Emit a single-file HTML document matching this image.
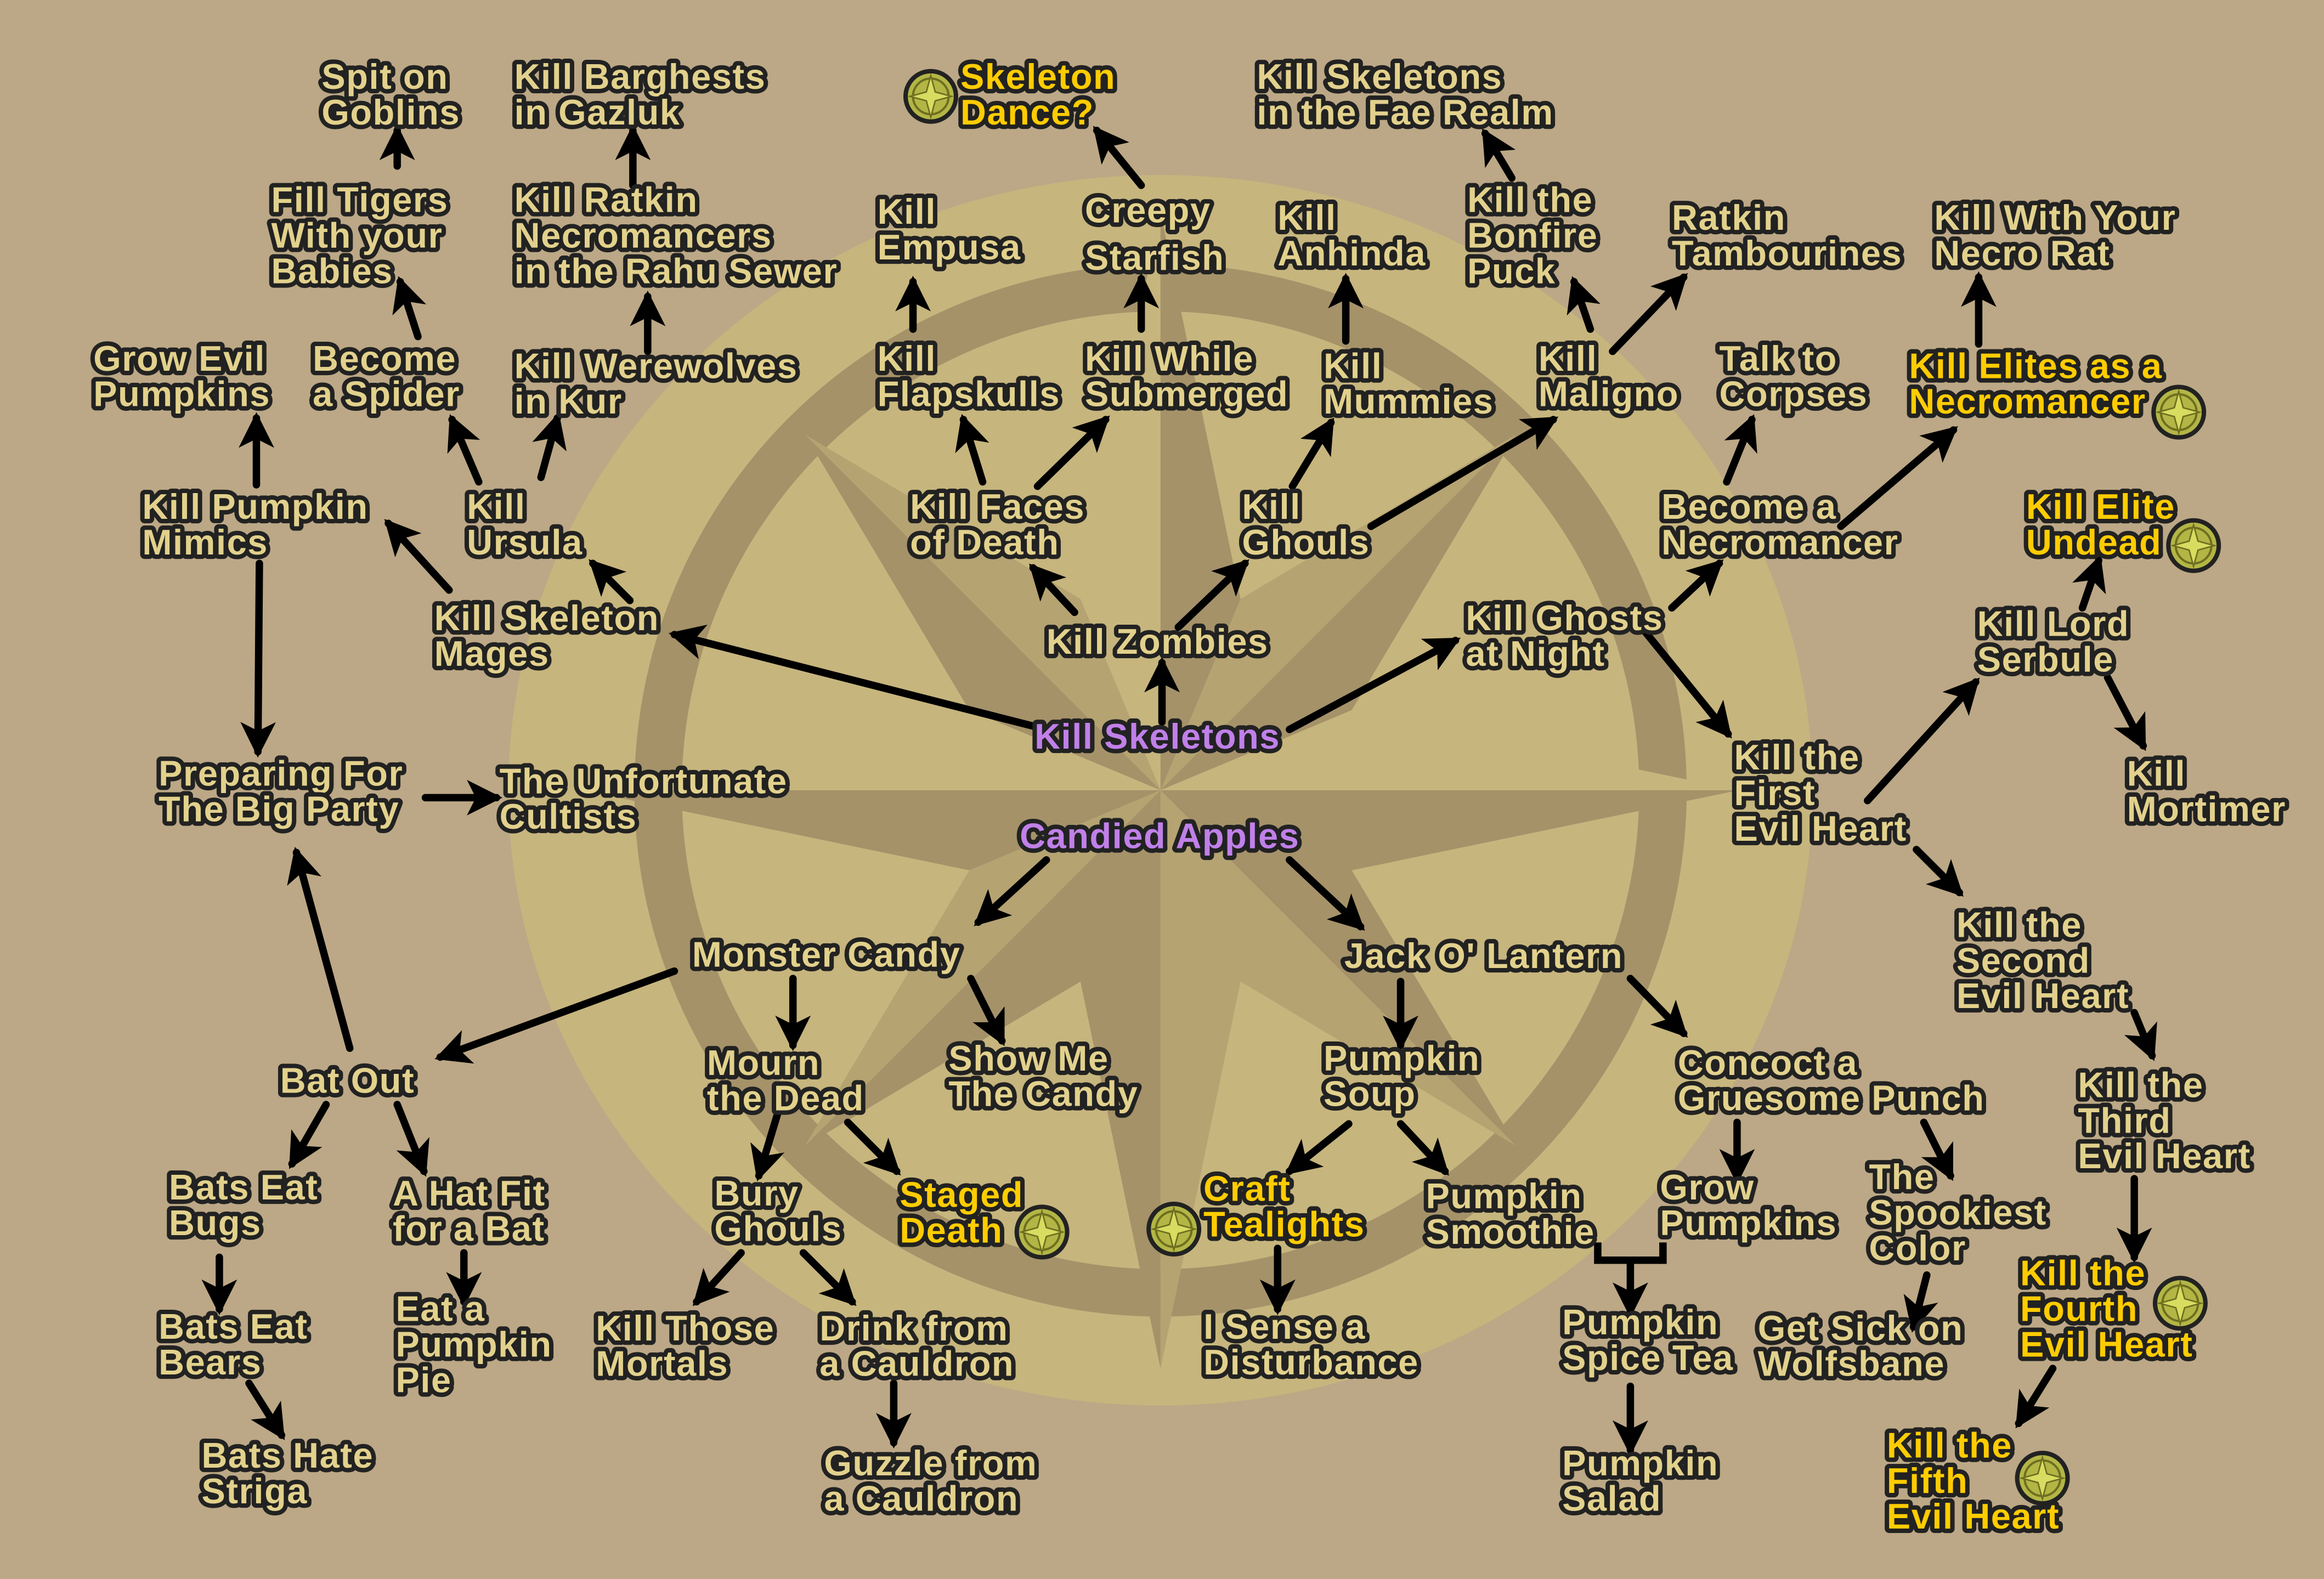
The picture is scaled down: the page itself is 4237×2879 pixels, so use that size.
<!DOCTYPE html>
<html><head><meta charset="utf-8"><style>
html,body{margin:0;padding:0;background:#BCA886;}
svg{display:block}
text{font-family:"Liberation Sans",sans-serif;font-weight:bold;font-size:24px;paint-order:stroke;stroke:#222;stroke-width:6;stroke-linejoin:round;fill:#E2D18C;letter-spacing:0.6px}
.y{fill:#FFCC00}
.p{fill:#C080E8}
.a{stroke:#000;stroke-width:5;fill:none;stroke-linecap:round}
.d{fill:#A59269}
.m{fill:#B5A372}
.l{fill:#C6B57D}
</style></head><body>
<svg width="4237" height="2879" viewBox="0 0 1568 1065" preserveAspectRatio="none" xmlns="http://www.w3.org/2000/svg">
<defs>
<marker id="h" markerUnits="userSpaceOnUse" markerWidth="30" markerHeight="30" refX="20" refY="12" orient="auto">
<path d="M0,0 L24,12 L0,24 L6,12 Z" fill="#000"/>
</marker>
<g id="coin"><circle r="17" fill="#B3B645" stroke="#222" stroke-width="3"/><circle r="12" fill="none" stroke="#6E6E20" stroke-width="1.5"/><path d="M0,-14 L3,-3 L14,0 L3,3 L0,14 L-3,3 L-14,0 L-3,-3Z" fill="#D8DC60" stroke="#6E6E20" stroke-width="1"/></g>
</defs>
<rect width="1568" height="1065" fill="#BCA886"/>
<ellipse cx="783" cy="533" rx="440" ry="415" fill="#C6B57D"/>
<circle cx="783" cy="533" r="339" fill="none" stroke="#A59269" stroke-width="32"/>
<!-- diagonal points -->
<path class="m" d="M783,533 L837,404 L1023,293Z"/>
<path class="d" d="M783,533 L912,479 L1023,293Z"/>
<path class="d" d="M783,533 L912,587 L1023,773Z"/>
<path class="m" d="M783,533 L837,662 L1023,773Z"/>
<path class="d" d="M783,533 L729,662 L543,773Z"/>
<path class="m" d="M783,533 L654,587 L543,773Z"/>
<path class="d" d="M783,533 L654,479 L543,293Z"/>
<path class="m" d="M783,533 L729,404 L543,293Z"/>
<!-- long points -->
<path class="l" d="M783,533 L912,479 L1173,533Z"/>
<path class="d" d="M783,533 L912,587 L1173,533Z"/>
<path class="l" d="M783,533 L654,479 L393,533Z"/>
<path class="d" d="M783,533 L654,587 L393,533Z"/>
<path class="l" d="M783,533 L729,404 L783,143Z"/>
<path class="d" d="M783,533 L837,404 L783,143Z"/>
<path class="d" d="M783,533 L729,662 L783,923Z"/>
<path class="m" d="M783,533 L837,662 L783,923Z"/>

<g class="a" marker-end="url(#h)">
<path d="M268,112 L268,88"/>
<path d="M427,125 L427,88"/>
<path d="M770,125 L740,88"/>
<path d="M1020,120 L1002,90"/>
<path d="M282,227 L270,190"/>
<path d="M437,237 L437,200"/>
<path d="M616,222 L616,190"/>
<path d="M770,222 L770,188"/>
<path d="M908,230 L908,188"/>
<path d="M1073,222 L1062,190"/>
<path d="M1088,237 L1136,187"/>
<path d="M1335,232 L1335,187"/>
<path d="M173,327 L173,282"/>
<path d="M323,325 L305,283"/>
<path d="M365,322 L376,282"/>
<path d="M663,325 L650,283"/>
<path d="M700,328 L746,283"/>
<path d="M872,328 L898,285"/>
<path d="M925,355 L1048,283"/>
<path d="M1165,325 L1182,283"/>
<path d="M1242,355 L1318,290"/>
<path d="M1260,540 L1333,460"/>
<path d="M1405,410 L1416,378"/>
<path d="M1422,457 L1446,503"/>
<path d="M303,398 L262,353"/>
<path d="M425,405 L400,380"/>
<path d="M175,380 L174,507"/>
<path d="M287,538 L335,538"/>
<path d="M236,707 L200,575"/>
<path d="M725,413 L697,383"/>
<path d="M795,423 L840,380"/>
<path d="M784,487 L784,447"/>
<path d="M698,490 L455,428"/>
<path d="M870,492 L982,432"/>
<path d="M1105,420 L1166,495"/>
<path d="M1128,410 L1160,380"/>
<path d="M1293,573 L1322,602"/>
<path d="M1440,683 L1452,712"/>
<path d="M1440,795 L1440,848"/>
<path d="M1385,923 L1362,960"/>
<path d="M706,580 L660,622"/>
<path d="M870,580 L918,625"/>
<path d="M455,655 L297,713"/>
<path d="M535,660 L535,705"/>
<path d="M655,660 L676,702"/>
<path d="M945,662 L945,705"/>
<path d="M1100,660 L1136,697"/>
<path d="M220,745 L197,785"/>
<path d="M268,745 L286,790"/>
<path d="M525,750 L512,793"/>
<path d="M572,757 L605,790"/>
<path d="M910,758 L870,790"/>
<path d="M945,758 L975,790"/>
<path d="M1172,757 L1172,795"/>
<path d="M1298,757 L1316,793"/>
<path d="M148,848 L148,883"/>
<path d="M313,845 L313,878"/>
<path d="M500,845 L470,878"/>
<path d="M542,845 L575,878"/>
<path d="M862,842 L862,883"/>
<path d="M1300,860 L1291,895"/>
<path d="M168,933 L190,968"/>
<path d="M603,933 L603,973"/>
<path d="M1100,935 L1100,978"/>
<path d="M1100,850 L1100,885"/>
</g>
<path d="M1078,838 V850 H1122 V838" stroke="#000" stroke-width="5" fill="none"/>

<use href="#coin" x="628" y="65"/>
<use href="#coin" x="1470" y="278"/>
<use href="#coin" x="1480" y="368"/>
<use href="#coin" x="703" y="831"/>
<use href="#coin" x="792" y="829"/>
<use href="#coin" x="1471" y="879"/>
<use href="#coin" x="1378" y="997"/>

<text x="217" y="60">Spit on<tspan x="217" y="84">Goblins</tspan></text>
<text x="347" y="60">Kill Barghests<tspan x="347" y="84">in Gazluk</tspan></text>
<text class="y" x="648" y="60">Skeleton<tspan x="648" y="84">Dance?</tspan></text>
<text x="848" y="60">Kill Skeletons<tspan x="848" y="84">in the Fae Realm</tspan></text>
<text x="183" y="143">Fill Tigers<tspan x="183" y="167">With your</tspan><tspan x="183" y="191">Babies</tspan></text>
<text x="347" y="143">Kill Ratkin<tspan x="347" y="167">Necromancers</tspan><tspan x="347" y="191">in the Rahu Sewer</tspan></text>
<text x="592" y="151">Kill<tspan x="592" y="175">Empusa</tspan></text>
<text x="732" y="150">Creepy<tspan x="732" y="182">Starfish</tspan></text>
<text x="862" y="155">Kill<tspan x="862" y="179">Anhinda</tspan></text>
<text x="990" y="143">Kill the<tspan x="990" y="167">Bonfire</tspan><tspan x="990" y="191">Puck</tspan></text>
<text x="1128" y="155">Ratkin<tspan x="1128" y="179">Tambourines</tspan></text>
<text x="1305" y="155">Kill With Your<tspan x="1305" y="179">Necro Rat</tspan></text>
<text x="63" y="250">Grow Evil<tspan x="63" y="274">Pumpkins</tspan></text>
<text x="211" y="250">Become<tspan x="211" y="274">a Spider</tspan></text>
<text x="347" y="255">Kill Werewolves<tspan x="347" y="279">in Kur</tspan></text>
<text x="592" y="250">Kill<tspan x="592" y="274">Flapskulls</tspan></text>
<text x="732" y="250">Kill While<tspan x="732" y="274">Submerged</tspan></text>
<text x="893" y="255">Kill<tspan x="893" y="279">Mummies</tspan></text>
<text x="1038" y="250">Kill<tspan x="1038" y="274">Maligno</tspan></text>
<text x="1160" y="250">Talk to<tspan x="1160" y="274">Corpses</tspan></text>
<text class="y" x="1288" y="255">Kill Elites as a<tspan x="1288" y="279">Necromancer</tspan></text>
<text x="96" y="350">Kill Pumpkin<tspan x="96" y="374">Mimics</tspan></text>
<text x="315" y="350">Kill<tspan x="315" y="374">Ursula</tspan></text>
<text x="614" y="350">Kill Faces<tspan x="614" y="374">of Death</tspan></text>
<text x="838" y="350">Kill<tspan x="838" y="374">Ghouls</tspan></text>
<text x="1121" y="350">Become a<tspan x="1121" y="374">Necromancer</tspan></text>
<text class="y" x="1367" y="350">Kill Elite<tspan x="1367" y="374">Undead</tspan></text>
<text x="293" y="425">Kill Skeleton<tspan x="293" y="449">Mages</tspan></text>
<text x="706" y="441">Kill Zombies</text>
<text x="989" y="425">Kill Ghosts<tspan x="989" y="449">at Night</tspan></text>
<text x="1334" y="429">Kill Lord<tspan x="1334" y="453">Serbule</tspan></text>
<text class="p" x="698" y="505">Kill Skeletons</text>
<text x="107" y="530">Preparing For<tspan x="107" y="554">The Big  Party</tspan></text>
<text x="337" y="535">The Unfortunate<tspan x="337" y="559">Cultists</tspan></text>
<text x="1170" y="519">Kill the<tspan x="1170" y="543">First</tspan><tspan x="1170" y="567">Evil Heart</tspan></text>
<text x="1435" y="530">Kill<tspan x="1435" y="554">Mortimer</tspan></text>
<text class="p" x="688" y="572">Candied Apples</text>
<text x="467" y="652">Monster Candy</text>
<text x="907" y="653">Jack O' Lantern</text>
<text x="1320" y="632">Kill the<tspan x="1320" y="656">Second</tspan><tspan x="1320" y="680">Evil Heart</tspan></text>
<text x="189" y="737">Bat Out</text>
<text x="477" y="725">Mourn<tspan x="477" y="749">the Dead</tspan></text>
<text x="640" y="722">Show Me<tspan x="640" y="746">The Candy</tspan></text>
<text x="893" y="722">Pumpkin<tspan x="893" y="746">Soup</tspan></text>
<text x="1132" y="725">Concoct a<tspan x="1132" y="749">Gruesome Punch</tspan></text>
<text x="1402" y="740">Kill the<tspan x="1402" y="764">Third</tspan><tspan x="1402" y="788">Evil Heart</tspan></text>
<text x="114" y="809">Bats Eat<tspan x="114" y="833">Bugs</tspan></text>
<text x="265" y="813">A Hat Fit<tspan x="265" y="837">for a Bat</tspan></text>
<text x="482" y="813">Bury<tspan x="482" y="837">Ghouls</tspan></text>
<text class="y" x="607" y="814">Staged<tspan x="607" y="838">Death</tspan></text>
<text class="y" x="812" y="810">Craft<tspan x="812" y="834">Tealights</tspan></text>
<text x="962" y="815">Pumpkin<tspan x="962" y="839">Smoothie</tspan></text>
<text x="1120" y="809">Grow<tspan x="1120" y="833">Pumpkins</tspan></text>
<text x="1261" y="802">The<tspan x="1261" y="826">Spookiest</tspan><tspan x="1261" y="850">Color</tspan></text>
<text class="y" x="1363" y="867">Kill the<tspan x="1363" y="891">Fourth</tspan><tspan x="1363" y="915">Evil Heart</tspan></text>
<text x="107" y="903">Bats Eat<tspan x="107" y="927">Bears</tspan></text>
<text x="267" y="891">Eat a<tspan x="267" y="915">Pumpkin</tspan><tspan x="267" y="939">Pie</tspan></text>
<text x="402" y="904">Kill Those<tspan x="402" y="928">Mortals</tspan></text>
<text x="553" y="904">Drink from<tspan x="553" y="928">a Cauldron</tspan></text>
<text x="812" y="903">I Sense a<tspan x="812" y="927">Disturbance</tspan></text>
<text x="1054" y="900">Pumpkin<tspan x="1054" y="924">Spice Tea</tspan></text>
<text x="1186" y="904">Get Sick on<tspan x="1186" y="928">Wolfsbane</tspan></text>
<text class="y" x="1273" y="983">Kill the<tspan x="1273" y="1007">Fifth</tspan><tspan x="1273" y="1031">Evil Heart</tspan></text>
<text x="136" y="990">Bats Hate<tspan x="136" y="1014">Striga</tspan></text>
<text x="556" y="995">Guzzle from<tspan x="556" y="1019">a Cauldron</tspan></text>
<text x="1054" y="995">Pumpkin<tspan x="1054" y="1019">Salad</tspan></text>
</svg>
</body></html>
